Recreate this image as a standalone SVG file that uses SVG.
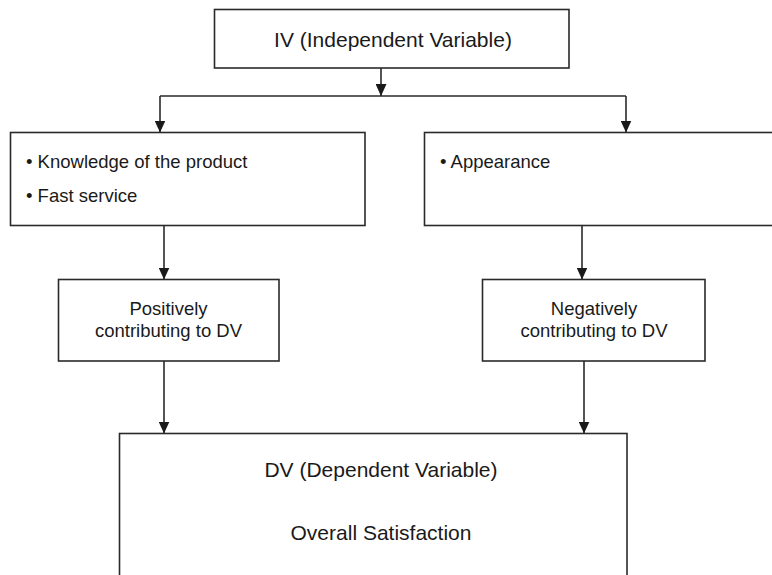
<svg xmlns="http://www.w3.org/2000/svg" width="772" height="575" viewBox="0 0 772 575">
  <defs>
    <marker id="arr" markerUnits="userSpaceOnUse" markerWidth="12" markerHeight="11" refX="12" refY="5.5" orient="auto">
      <path d="M0,0 L12,5.5 L0,11 Z" fill="#1a1a1a"/>
    </marker>
    <style>
      .box { fill: #ffffff; stroke: #2a2a2a; stroke-width: 1.6; }
      .ln { fill: none; stroke: #2a2a2a; stroke-width: 1.6; }
      .t { font-family: "Liberation Sans", Arial, sans-serif; fill: #1a1a1a; }
      .big { font-size: 21px; }
      .mid { font-size: 18.5px; }
    </style>
  </defs>
  <rect width="772" height="575" fill="#ffffff"/>

  <g id="connectors">
    <line class="ln" x1="381" y1="68" x2="381" y2="96" marker-end="url(#arr)"/>
    <line class="ln" x1="160" y1="96" x2="626" y2="96"/>
    <line class="ln" x1="160" y1="96" x2="160" y2="132.5" marker-end="url(#arr)"/>
    <line class="ln" x1="626" y1="96" x2="626" y2="132.5" marker-end="url(#arr)"/>
    <line class="ln" x1="164" y1="226" x2="164" y2="279.5" marker-end="url(#arr)"/>
    <line class="ln" x1="582" y1="226" x2="582" y2="279.5" marker-end="url(#arr)"/>
    <line class="ln" x1="164" y1="361" x2="164" y2="433.5" marker-end="url(#arr)"/>
    <line class="ln" x1="584" y1="361" x2="584" y2="433.5" marker-end="url(#arr)"/>
  </g>

  <g id="iv">
    <rect class="box" x="214.5" y="9.5" width="354.5" height="58.5"/>
    <text class="t big" x="393" y="46.5" text-anchor="middle">IV (Independent Variable)</text>
  </g>

  <g id="positive-factors">
    <rect class="box" x="10.5" y="132.5" width="354.5" height="93"/>
    <text class="t mid" x="26" y="167.5">• Knowledge of the product</text>
    <text class="t mid" x="26" y="202">• Fast service</text>
  </g>

  <g id="negative-factors">
    <rect class="box" x="424.5" y="132.5" width="360" height="93"/>
    <text class="t mid" x="440" y="167.5">• Appearance</text>
  </g>

  <g id="positively">
    <rect class="box" x="58.5" y="279.5" width="220.5" height="81.5"/>
    <text class="t mid" x="168.5" y="315" text-anchor="middle">Positively</text>
    <text class="t mid" x="168.5" y="337" text-anchor="middle">contributing to DV</text>
  </g>

  <g id="negatively">
    <rect class="box" x="482.5" y="279.5" width="222.5" height="81.5"/>
    <text class="t mid" x="594" y="315" text-anchor="middle">Negatively</text>
    <text class="t mid" x="594" y="337" text-anchor="middle">contributing to DV</text>
  </g>

  <g id="dv">
    <rect class="box" x="119.5" y="433.5" width="507.5" height="200"/>
    <text class="t big" x="381" y="477" text-anchor="middle">DV (Dependent Variable)</text>
    <text class="t big" x="381" y="540" text-anchor="middle">Overall Satisfaction</text>
  </g>
</svg>
